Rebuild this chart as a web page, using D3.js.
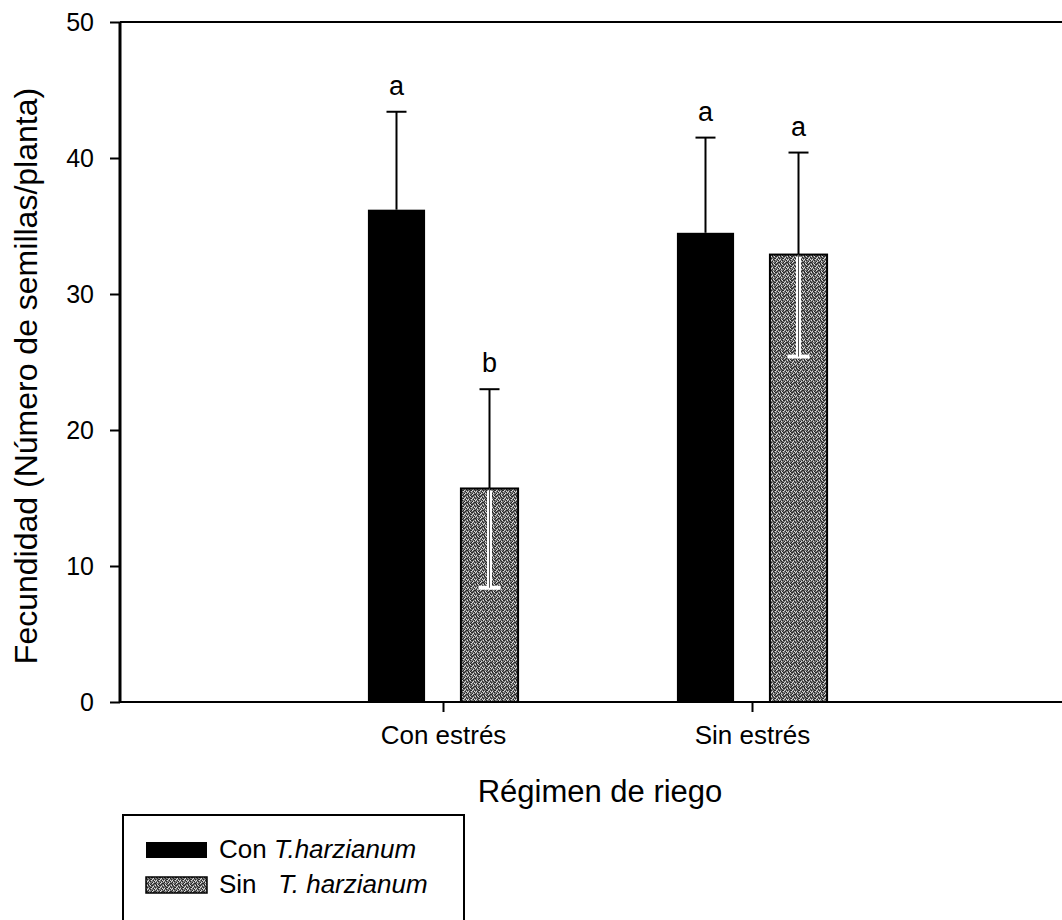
<!DOCTYPE html>
<html>
<head>
<meta charset="utf-8">
<script src="https://cdn.jsdelivr.net/npm/d3@7"></script>
<style>
  body { margin: 0; background: #fff; }
  svg { display: block; font-family: "Liberation Sans", Arial, sans-serif; }
</style>
</head>
<body>
<div id="chart"></div>
<script>
const categories = ["Con estrés", "Sin estrés"];
const con_values = [36.2, 34.5];
const con_errors = [7.2, 7.0];
const con_letters = ["a", "a"];
const sin_values = [15.7, 32.9];
const sin_errors = [7.3, 7.5];
const sin_letters = ["b", "a"];
const y_ticks = [0, 10, 20, 30, 40, 50];
const legend_labels = [["Con ", "T.harzianum"], ["Sin   ", "T. harzianum"]];

const width = 1062;
const height = 920;
const left = 120, top_ = 22, bottom = 702;

const svg = d3.select("#chart").append("svg")
    .attr("width", width)
    .attr("height", height);

// speckled gray fill for the "Sin" bars
const defs = svg.append("defs");
const pat = defs.append("pattern")
    .attr("id", "speckle")
    .attr("patternUnits", "userSpaceOnUse")
    .attr("width", 8)
    .attr("height", 8);
pat.append("rect").attr("width", 8).attr("height", 8).attr("fill", "#777");
const dark = [[0,0],[2,1],[4,0],[1,3],[3,2],[5,3],[0,5],[2,4],[4,5],[5,1],[6,2],[7,6],[6,7],[3,6],[1,7],[7,0],[6,4],[2,6],[4,7],[7,2]];
const light = [[1,1],[3,0],[5,5],[0,2],[2,3],[4,3],[1,5],[3,4],[7,3],[5,7],[6,0],[0,6]];
pat.selectAll("rect.d").data(dark).join("rect").attr("class", "d")
    .attr("x", d => d[0]).attr("y", d => d[1]).attr("width", 1).attr("height", 1).attr("fill", "#262626");
pat.selectAll("rect.l").data(light).join("rect").attr("class", "l")
    .attr("x", d => d[0]).attr("y", d => d[1]).attr("width", 1).attr("height", 1).attr("fill", "#dcdcdc");

const y = d3.scaleLinear().domain([0, 50]).range([bottom, top_]);
const x = d3.scaleLinear().domain([0, 3]).range([134, 1061]);
const cat_pos = categories.map((c, i) => i + 1);
const bar_w = 0.185;
const con_off = -0.243;
const sin_off = 0.058;

const bars = [];
categories.forEach((c, i) => {
    bars.push({pos: cat_pos[i] + con_off, v: con_values[i], e: con_errors[i], l: con_letters[i], kind: "con"});
    bars.push({pos: cat_pos[i] + sin_off, v: sin_values[i], e: sin_errors[i], l: sin_letters[i], kind: "sin"});
});

const bw = x(bar_w) - x(0);

svg.append("g").selectAll("rect")
    .data(bars)
    .join("rect")
    .attr("x", d => x(d.pos))
    .attr("y", d => y(d.v))
    .attr("width", bw)
    .attr("height", d => y(0) - y(d.v))
    .attr("fill", d => d.kind === "con" ? "#000" : "url(#speckle)")
    .attr("stroke", "#000")
    .attr("stroke-width", d => d.kind === "con" ? 0 : 2);

// error bars
const eb = svg.append("g");
bars.forEach(d => {
    const cx = x(d.pos) + bw / 2;
    eb.append("line")
        .attr("x1", cx).attr("x2", cx)
        .attr("y1", y(d.v)).attr("y2", y(d.v + d.e))
        .attr("stroke", "#000").attr("stroke-width", 2);
    eb.append("line")
        .attr("x1", cx - 10).attr("x2", cx + 10)
        .attr("y1", y(d.v + d.e)).attr("y2", y(d.v + d.e))
        .attr("stroke", "#000").attr("stroke-width", 2);
    if (d.kind === "sin") {
        eb.append("line")
            .attr("x1", cx).attr("x2", cx)
            .attr("y1", y(d.v) + 2).attr("y2", y(d.v - d.e))
            .attr("stroke", "#fff").attr("stroke-width", 5);
        eb.append("line")
            .attr("x1", cx - 11).attr("x2", cx + 11)
            .attr("y1", y(d.v - d.e)).attr("y2", y(d.v - d.e))
            .attr("stroke", "#fff").attr("stroke-width", 4);
        eb.append("line")
            .attr("x1", cx).attr("x2", cx)
            .attr("y1", y(d.v)).attr("y2", y(d.v - d.e))
            .attr("stroke", "#555").attr("stroke-width", 1);
    }
    eb.append("text")
        .attr("x", cx)
        .attr("y", y(d.v + d.e) - 17)
        .attr("text-anchor", "middle")
        .attr("font-size", 27)
        .text(d.l);
});

// frame
svg.append("line").attr("x1", left).attr("x2", width).attr("y1", top_).attr("y2", top_)
    .attr("stroke", "#000").attr("stroke-width", 2);
svg.append("line").attr("x1", left).attr("x2", width).attr("y1", bottom).attr("y2", bottom)
    .attr("stroke", "#000").attr("stroke-width", 2);

// y axis
const yAxis = svg.append("g")
    .attr("transform", `translate(${left},0)`)
    .call(d3.axisLeft(y).tickValues(y_ticks).tickSize(10).tickPadding(16));
yAxis.select(".domain").attr("stroke-width", 3).attr("d", `M0,${top_}V${bottom}`);
yAxis.selectAll(".tick line").attr("stroke-width", 2);
yAxis.selectAll("text").attr("font-size", 25).attr("font-family", "Liberation Sans, Arial, sans-serif").attr("fill", "#000");

// x axis
const xAxis = svg.append("g")
    .attr("transform", `translate(0,${bottom})`)
    .call(d3.axisBottom(x).tickValues(cat_pos).tickFormat((d, i) => categories[i]).tickSize(10).tickPadding(14));
xAxis.select(".domain").remove();
xAxis.selectAll(".tick line").attr("stroke-width", 2);
xAxis.selectAll("text").attr("font-size", 26).attr("font-family", "Liberation Sans, Arial, sans-serif").attr("fill", "#000");

// axis titles
svg.append("text")
    .attr("transform", `translate(37,376) rotate(-90)`)
    .attr("text-anchor", "middle")
    .attr("font-size", 32)
    .text("Fecundidad (Número de semillas/planta)");

svg.append("text")
    .attr("x", 600)
    .attr("y", 802)
    .attr("text-anchor", "middle")
    .attr("font-size", 31)
    .text("Régimen de riego");

// legend
const lg = svg.append("g");
lg.append("rect")
    .attr("x", 123).attr("y", 815).attr("width", 341).attr("height", 140)
    .attr("fill", "none").attr("stroke", "#000").attr("stroke-width", 2);
const rows = lg.selectAll("g.row")
    .data(legend_labels)
    .join("g")
    .attr("class", "row")
    .attr("transform", (d, i) => `translate(0,${842 + i * 35})`);
rows.append("rect")
    .attr("x", 146).attr("y", 0).attr("width", 61).attr("height", 16)
    .attr("fill", (d, i) => i === 0 ? "#000" : "url(#speckle)")
    .attr("stroke", "#000")
    .attr("stroke-width", (d, i) => i === 0 ? 0 : 1.5);
const lt = rows.append("text")
    .attr("x", 219).attr("y", 16)
    .attr("font-size", 26)
    .attr("xml:space", "preserve")
    .style("white-space", "pre");
lt.append("tspan").text(d => d[0]);
lt.append("tspan").attr("font-style", "italic").text(d => d[1]);
</script>
</body>
</html>
